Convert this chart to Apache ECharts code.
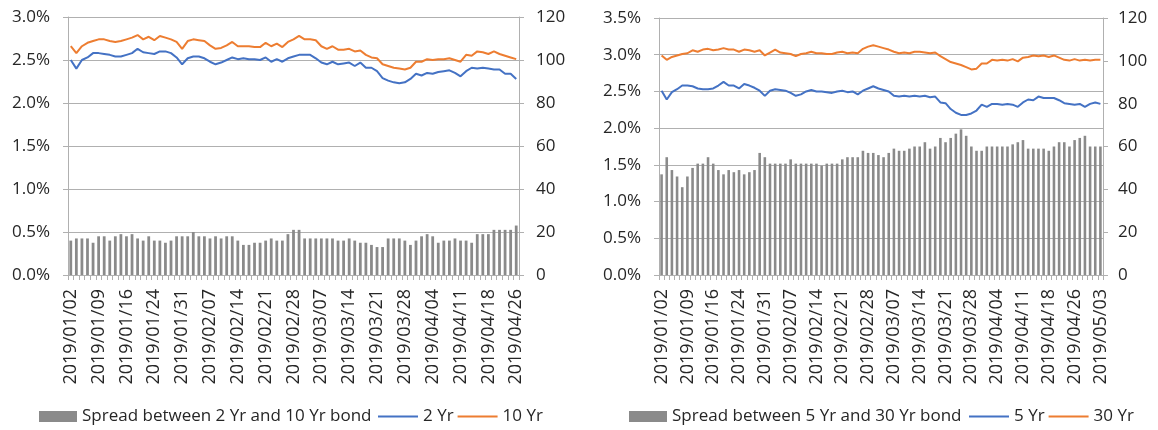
<!DOCTYPE html>
<html>
<head>
<meta charset="utf-8">
<script src="https://cdn.jsdelivr.net/npm/echarts@6/dist/echarts.min.js"></script>
<style>
  html, body { margin: 0; padding: 0; background: #ffffff; }
  #chart { width: 1158px; height: 430px; }
</style>
</head>
<body>
<div id="chart"></div>
<script>
// Trading days, 2019/01/02 to 2019/04/26
const datesA = [
  '2019/01/02','2019/01/03','2019/01/04','2019/01/07','2019/01/08','2019/01/09','2019/01/10','2019/01/11',
  '2019/01/14','2019/01/15','2019/01/16','2019/01/17','2019/01/18','2019/01/22','2019/01/23','2019/01/24',
  '2019/01/25','2019/01/28','2019/01/29','2019/01/30','2019/01/31',
  '2019/02/01','2019/02/04','2019/02/05','2019/02/06','2019/02/07','2019/02/08','2019/02/11','2019/02/12',
  '2019/02/13','2019/02/14','2019/02/15','2019/02/18','2019/02/19','2019/02/20','2019/02/21','2019/02/22',
  '2019/02/25','2019/02/26','2019/02/27','2019/02/28',
  '2019/03/01','2019/03/04','2019/03/05','2019/03/06','2019/03/07','2019/03/08','2019/03/11','2019/03/12',
  '2019/03/13','2019/03/14','2019/03/15','2019/03/18','2019/03/19','2019/03/20','2019/03/21','2019/03/22',
  '2019/03/25','2019/03/26','2019/03/27','2019/03/28','2019/03/29',
  '2019/04/01','2019/04/02','2019/04/03','2019/04/04','2019/04/05','2019/04/08','2019/04/09','2019/04/10',
  '2019/04/11','2019/04/12','2019/04/15','2019/04/16','2019/04/17','2019/04/18','2019/04/22','2019/04/23',
  '2019/04/24','2019/04/25','2019/04/26'
];
// Same calendar extended through 2019/05/03
const datesB = datesA.concat(['2019/04/29','2019/04/30','2019/05/01','2019/05/02','2019/05/03']);

// Left chart: yields in %, spread in bp
const yield2 = [
  2.50,2.40,2.50,2.53,2.58,2.58,2.57,2.56,2.54,2.54,
  2.56,2.58,2.63,2.59,2.58,2.57,2.60,2.60,2.58,2.53,
  2.45,2.52,2.54,2.54,2.52,2.48,2.45,2.47,2.50,2.53,
  2.51,2.52,2.51,2.51,2.50,2.53,2.48,2.51,2.48,2.52,
  2.54,2.56,2.56,2.56,2.52,2.47,2.45,2.48,2.45,2.46,
  2.47,2.43,2.47,2.41,2.41,2.37,2.29,2.26,2.24,2.23,
  2.24,2.28,2.34,2.32,2.35,2.34,2.36,2.37,2.38,2.35,
  2.31,2.37,2.41,2.40,2.41,2.40,2.39,2.39,2.34,2.34,
  2.28
];
const yield10 = [
  2.66,2.58,2.66,2.70,2.72,2.74,2.74,2.72,2.71,2.72,
  2.74,2.76,2.79,2.74,2.77,2.73,2.78,2.76,2.74,2.71,
  2.63,2.72,2.74,2.73,2.72,2.67,2.63,2.64,2.67,2.71,
  2.66,2.66,2.66,2.65,2.65,2.70,2.66,2.69,2.65,2.71,
  2.74,2.78,2.74,2.74,2.73,2.66,2.63,2.66,2.62,2.62,
  2.63,2.60,2.61,2.56,2.53,2.52,2.45,2.43,2.41,2.40,
  2.39,2.41,2.48,2.48,2.51,2.50,2.51,2.51,2.52,2.50,
  2.48,2.56,2.55,2.60,2.59,2.57,2.60,2.57,2.55,2.53,
  2.51
];
const spread2y10y = [
  16,17,17,17,15,18,18,16,18,19,
  18,19,17,16,18,16,16,15,16,18,
  18,18,20,18,18,17,18,17,18,18,
  16,14,14,15,15,16,17,16,16,19,
  21,21,17,17,17,17,17,17,16,16,
  17,16,15,15,14,13,13,17,17,17,
  16,14,16,18,19,18,15,16,16,17,
  16,16,15,19,19,19,21,21,21,21,
  23
];

// Right chart: yields in %, spread in bp
const yield5 = [
  2.51,2.39,2.49,2.53,2.58,2.58,2.57,2.54,2.53,2.53,
  2.54,2.58,2.63,2.58,2.58,2.54,2.60,2.58,2.55,2.51,
  2.44,2.51,2.53,2.52,2.51,2.48,2.44,2.46,2.50,2.52,
  2.50,2.50,2.49,2.48,2.50,2.51,2.49,2.50,2.46,2.51,
  2.54,2.57,2.54,2.52,2.50,2.44,2.43,2.44,2.43,2.44,
  2.43,2.44,2.42,2.43,2.35,2.34,2.26,2.21,2.18,2.18,
  2.20,2.24,2.32,2.29,2.33,2.33,2.32,2.33,2.32,2.29,
  2.35,2.39,2.38,2.43,2.41,2.41,2.41,2.38,2.34,2.33,
  2.32,2.33,2.29,2.33,2.35,2.33
];
const yield30 = [
  2.99,2.93,2.97,2.99,3.01,3.02,3.06,3.04,3.07,3.08,
  3.06,3.07,3.09,3.07,3.07,3.04,3.07,3.06,3.04,3.06,
  2.99,3.03,3.07,3.03,3.02,3.01,2.98,3.01,3.02,3.04,
  3.02,3.02,3.01,3.01,3.03,3.04,3.02,3.03,3.02,3.08,
  3.11,3.13,3.11,3.09,3.07,3.04,3.02,3.03,3.02,3.04,
  3.04,3.03,3.02,3.03,2.98,2.94,2.90,2.88,2.86,2.83,
  2.80,2.81,2.88,2.88,2.93,2.92,2.93,2.92,2.94,2.91,
  2.96,2.97,2.99,2.98,2.99,2.97,2.99,2.96,2.93,2.92,
  2.94,2.92,2.93,2.92,2.93,2.93
];
const spread5y30y = [
  47,55,49,46,41,46,50,52,52,55,
  52,49,47,49,48,49,47,48,49,57,
  55,52,52,52,52,54,52,52,52,52,
  52,51,52,52,52,54,55,55,55,58,
  57,57,56,55,57,59,58,58,59,60,
  60,62,59,60,64,62,64,66,68,65,
  60,58,58,60,60,60,60,60,61,62,
  63,59,59,59,59,58,60,62,62,60,
  63,64,65,60,60,60
];

const names = {
  spreadA: 'Spread between 2 Yr and 10 Yr bond', shortA: '2 Yr', longA: '10 Yr',
  spreadB: 'Spread between 5 Yr and 30 Yr bond', shortB: '5 Yr', longB: '30 Yr'
};

const FONT = '"Open Sans", "DejaVu Sans", sans-serif';
const TEXT = '#262626';
const LINE_GRAY = '#b0b0b0';
const BAR_GRAY = '#8a8a8a';
const BLUE = '#4472C4';
const ORANGE = '#ED7D31';

function categoryAxis(gridIndex, data) {
  return {
    type: 'category', gridIndex: gridIndex, data: data, boundaryGap: true,
    axisLine: { lineStyle: { color: LINE_GRAY, width: 1 } },
    axisTick: { show: true, interval: 0, length: 5, lineStyle: { color: LINE_GRAY } },
    axisLabel: { interval: 4, rotate: 90, margin: 14, color: TEXT, fontFamily: FONT, fontSize: 18 }
  };
}
function percentAxis(gridIndex, max) {
  return {
    type: 'value', gridIndex: gridIndex, position: 'left', min: 0, max: max, interval: 0.5,
    axisLine: { show: true, lineStyle: { color: LINE_GRAY, width: 1 } },
    axisTick: { show: true, length: 5, lineStyle: { color: LINE_GRAY } },
    splitLine: { show: true, lineStyle: { color: LINE_GRAY, width: 1 } },
    axisLabel: { margin: 18, color: TEXT, fontFamily: FONT, fontSize: 17,
      formatter: function (v) { return v.toFixed(1) + '%'; } }
  };
}
function bpAxis(gridIndex, margin) {
  return {
    type: 'value', gridIndex: gridIndex, position: 'right', min: 0, max: 120, interval: 20,
    axisLine: { show: true, lineStyle: { color: LINE_GRAY, width: 1 } },
    axisTick: { show: true, length: 5, lineStyle: { color: LINE_GRAY } },
    splitLine: { show: false },
    axisLabel: { margin: margin, color: TEXT, fontFamily: FONT, fontSize: 17 }
  };
}
// Bar entry uses a filled block; line entries use a flat stroke
function barLegend(left, name) {
  return {
    data: [name], left: left, top: 403, orient: 'horizontal', icon: 'rect',
    itemWidth: 38, itemHeight: 11, itemGap: 6,
    textStyle: { color: TEXT, fontFamily: FONT, fontSize: 17 }
  };
}
function lineLegend(left, items) {
  return {
    data: items, left: left, top: 403, orient: 'horizontal', icon: 'rect',
    itemWidth: 40, itemHeight: 2, itemGap: 4,
    textStyle: { color: TEXT, fontFamily: FONT, fontSize: 17 }
  };
}
function lineSeries(name, xi, yi, data, color) {
  return {
    name: name, type: 'line', xAxisIndex: xi, yAxisIndex: yi, data: data,
    symbol: 'none', smooth: false, z: 3,
    lineStyle: { color: color, width: 2 }, itemStyle: { color: color }
  };
}
function barSeries(name, xi, yi, data) {
  return {
    name: name, type: 'bar', xAxisIndex: xi, yAxisIndex: yi, data: data,
    barWidth: '50%', z: 2, itemStyle: { color: BAR_GRAY }
  };
}

const chart = echarts.init(document.getElementById('chart'), null, { renderer: 'canvas' });
chart.setOption({
  animation: false,
  backgroundColor: '#ffffff',
  grid: [
    { left: 68, top: 17, width: 451, height: 258 },
    { left: 659, top: 18, width: 444, height: 257 }
  ],
  xAxis: [categoryAxis(0, datesA), categoryAxis(1, datesB)],
  yAxis: [percentAxis(0, 3.0), bpAxis(0, 17), percentAxis(1, 3.5), bpAxis(1, 15)],
  legend: [
    barLegend(34, names.spreadA),
    lineLegend(373, [names.shortA, names.longA]),
    barLegend(624, names.spreadB),
    lineLegend(964, [names.shortB, names.longB])
  ],
  series: [
    barSeries(names.spreadA, 0, 1, spread2y10y),
    lineSeries(names.shortA, 0, 0, yield2, BLUE),
    lineSeries(names.longA, 0, 0, yield10, ORANGE),
    barSeries(names.spreadB, 1, 3, spread5y30y),
    lineSeries(names.shortB, 1, 2, yield5, BLUE),
    lineSeries(names.longB, 1, 2, yield30, ORANGE)
  ]
});
</script>
</body>
</html>
